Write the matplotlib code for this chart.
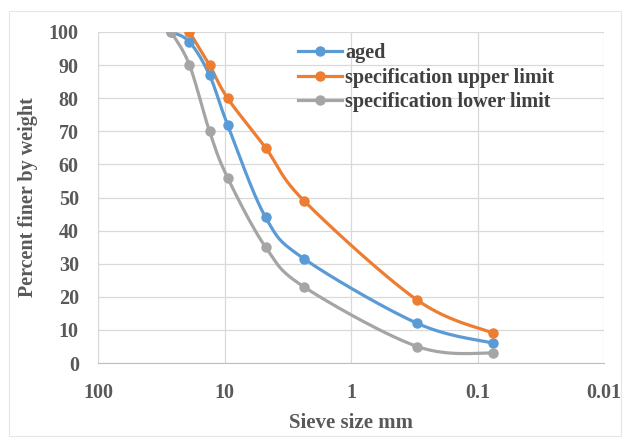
import matplotlib
matplotlib.use('Agg')
import matplotlib.pyplot as plt
from matplotlib.patches import Rectangle
from matplotlib.ticker import FixedLocator, FixedFormatter, NullLocator
import numpy as np

# sieve sizes (mm) and percent passing
aged_size = [26.5, 19, 13.2, 9.5, 4.75, 2.36, 0.3, 0.075]
aged_pass = [100, 97, 87, 72, 44, 31.5, 12, 6]

upper_size = [19, 13.2, 9.5, 4.75, 2.36, 0.3, 0.075]
upper_pass = [100, 90, 80, 65, 49, 19, 9]

lower_size = [26.5, 19, 13.2, 9.5, 4.75, 2.36, 0.3, 0.075]
lower_pass = [100, 90, 70, 56, 35, 23, 5, 3]

x_ticks = [100, 10, 1, 0.1, 0.01]
x_tick_labels = ['100', '10', '1', '0.1', '0.01']
y_ticks = list(range(0, 101, 10))

series = [
    ('aged', aged_size, aged_pass, '#5B9BD5'),
    ('specification upper limit', upper_size, upper_pass, '#ED7D31'),
    ('specification lower limit', lower_size, lower_pass, '#A5A5A5'),
]


def smooth(xs, ys, n=30):
    # excel-style smoothed line: bezier through points, worked in log-x space
    u = np.log10(np.asarray(xs, float))
    v = np.asarray(ys, float)
    pts = np.column_stack([u, v])
    m = len(pts)
    out = []
    t = np.linspace(0, 1, n)[:, None]
    for i in range(m - 1):
        p0 = pts[max(i - 1, 0)]
        p1 = pts[i]
        p2 = pts[i + 1]
        p3 = pts[min(i + 2, m - 1)]
        c1 = p1 + (p2 - p0) / 6
        c2 = p2 - (p3 - p1) / 6
        seg = ((1 - t) ** 3) * p1 + 3 * ((1 - t) ** 2) * t * c1 + 3 * (1 - t) * t ** 2 * c2 + t ** 3 * p2
        out.append(seg if i == 0 else seg[1:])
    out = np.vstack(out)
    return 10 ** out[:, 0], out[:, 1]


plt.rcParams['font.family'] = ['Liberation Serif', 'DejaVu Serif']
plt.rcParams['font.weight'] = 'bold'

fig = plt.figure(figsize=(6.3, 4.38), dpi=100)
ax = fig.add_axes([0.156, 0.171, 0.803, 0.756])

fig.patches.append(Rectangle((0.014, 0.005), 0.972, 0.97, transform=fig.transFigure,
                             fill=False, edgecolor='#e6e6e6', linewidth=0.8))

for name, xs, ys, col in series:
    sx, sy = smooth(xs, ys)
    ax.plot(sx, sy, color=col, lw=2.3, zorder=3)
    ax.plot(xs, ys, 'o', color=col, ms=6.5, zorder=4)
    ax.plot([], [], color=col, lw=2.3, marker='o', ms=6.5, label=name)

ax.set_xscale('log')
ax.set_xlim(100, 0.01)
ax.set_ylim(0, 100)
ax.xaxis.set_major_locator(FixedLocator(x_ticks))
ax.xaxis.set_major_formatter(FixedFormatter(x_tick_labels))
ax.xaxis.set_minor_locator(NullLocator())
ax.set_yticks(y_ticks)

ax.grid(True, color='#d9d9d9', lw=0.9)
ax.set_axisbelow(True)
for s in ['top', 'right']:
    ax.spines[s].set_visible(False)
ax.spines['left'].set_color('#d9d9d9')
ax.spines['bottom'].set_color('#bfbfbf')
ax.tick_params(length=0, labelsize=14.5, labelcolor='#595959')
ax.tick_params(axis='y', pad=14)
ax.tick_params(axis='x', pad=14)

ax.set_xlabel('Sieve size mm', fontsize=15, color='#595959', fontweight='bold')
ax.set_ylabel('Percent finer by weight', fontsize=14.5, color='#595959', fontweight='bold')
ax.xaxis.set_label_coords(0.5, -0.152)
ax.yaxis.set_label_coords(-0.12, 0.5)

leg = ax.legend(loc='upper left', bbox_to_anchor=(0.378, 0.99), frameon=False, fontsize=14.5,
                handlelength=2.2, handletextpad=0.15, labelspacing=0.22, borderaxespad=0)
for t in leg.get_texts():
    t.set_color('#404040')

fig.savefig('out.png', dpi=100)
